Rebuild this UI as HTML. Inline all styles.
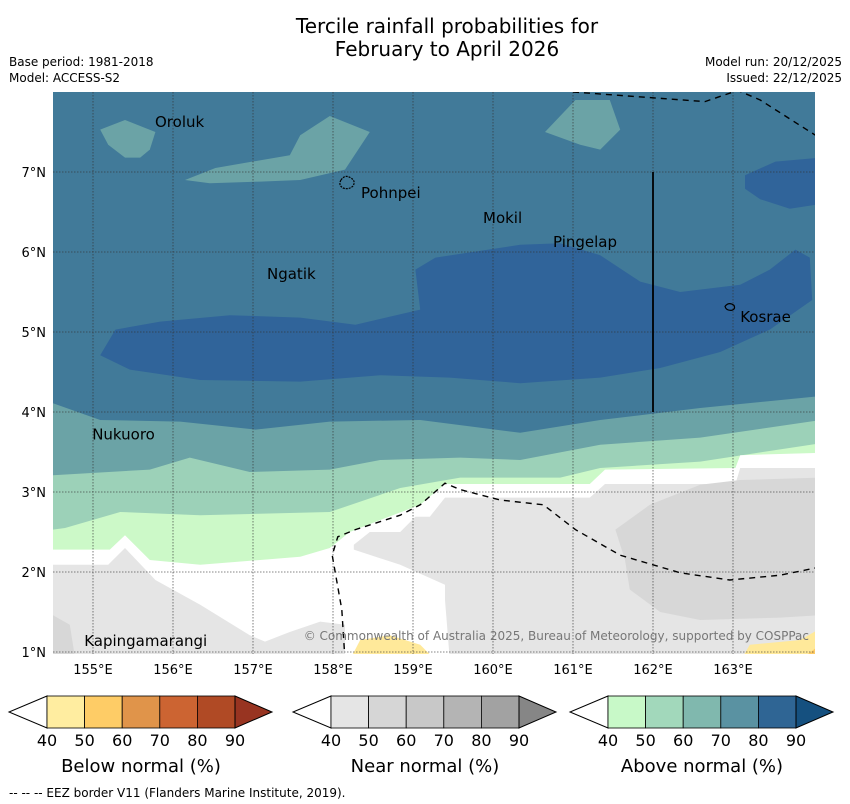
<!DOCTYPE html>
<html><head><meta charset="utf-8"><style>
body{margin:0;background:#fff;width:850px;height:804px;overflow:hidden;font-family:"Liberation Sans","DejaVu Sans",sans-serif}
svg{position:absolute;left:0;top:0}
</style></head><body>
<svg id="s" width="850" height="804" xmlns="http://www.w3.org/2000/svg" font-family="DejaVu Sans, Liberation Sans, sans-serif">
<text x="447" y="33" font-size="20" text-anchor="middle">Tercile rainfall probabilities for</text>
<text x="447" y="56" font-size="20" text-anchor="middle">February to April 2026</text>
<text x="9" y="66" font-size="12">Base period: 1981-2018</text>
<text x="9" y="82" font-size="12">Model: ACCESS-S2</text>
<text x="842" y="66" font-size="12" text-anchor="end">Model run: 20/12/2025</text>
<text x="842" y="82" font-size="12" text-anchor="end">Issued: 22/12/2025</text>
<defs><clipPath id="mc"><rect x="53" y="92" width="762" height="562"/></clipPath></defs>
<g id="map" clip-path="url(#mc)"></g>
<g id="over"></g>
<text x="9" y="797" font-size="12">--  --  -- EEZ border V11 (Flanders Marine Institute, 2019).</text>
</svg>
<script>
const lonMin=154.5, latMax=8.0, pxDeg=80, X0=53, Y0=92;
function px(lon){return X0+(lon-lonMin)*pxDeg;}
function py(lat){return Y0+(latMax-lat)*pxDeg;}
const lonTicks=[155,156,157,158,159,160,161,162,163];
const latTicks=[1,2,3,4,5,6,7];
const darkBlob=[[155.09,4.71],[155.28,5.03],[155.84,5.13],[156.71,5.21],[157.59,5.18],[158.28,5.09],[159.09,5.28],[159.03,5.78],[159.28,5.93],[160.34,6.09],[160.84,6.11],[161.34,5.96],[161.84,5.63],[162.34,5.5],[163.09,5.59],[163.46,5.78],[163.78,6.03],[163.96,5.93],[163.99,5.4],[163.46,5.03],[162.84,4.75],[162.09,4.55],[161.34,4.43],[160.34,4.36],[159.46,4.43],[158.59,4.46],[157.59,4.38],[156.34,4.4],[155.46,4.53]];
const darkBlob2=[[163.15,6.96],[163.53,7.13],[164.1,7.18],[164.1,6.6],[163.71,6.54],[163.34,6.66],[163.15,6.79]];
const tealOroluk=[[155.09,7.53],[155.4,7.65],[155.78,7.5],[155.71,7.28],[155.59,7.18],[155.4,7.18],[155.19,7.34]];
const tealPohnpei=[[156.15,6.9],[156.53,7.05],[157.46,7.21],[157.59,7.46],[157.96,7.7],[158.46,7.5],[158.15,7.03],[157.59,6.9],[157.09,6.88],[156.46,6.86]];
const tealNE=[[160.65,7.5],[161.03,7.9],[161.46,7.9],[161.59,7.53],[161.34,7.28],[161.09,7.34]];
const tealTop=[[154.5,4.11],[155.09,3.9],[156.09,3.88],[157.03,3.78],[157.96,3.88],[159.09,3.9],[160.34,3.74],[161.34,3.9],[162.59,4.05],[164.1,4.2]];
const lightTop=[[154.5,3.21],[155.71,3.28],[156.21,3.43],[156.96,3.25],[157.96,3.28],[158.59,3.4],[159.59,3.43],[160.34,3.4],[161.34,3.59],[162.59,3.68],[164.1,3.9]];
const paleTop=[[154.5,2.53],[154.65,2.55],[155.34,2.75],[156.34,2.71],[157.96,2.75],[158.84,3.05],[159.59,3.18],[160.84,3.18],[161.34,3.3],[162.59,3.38],[164.1,3.61]];
const whiteTop=[[154.5,2.28],[155.21,2.28],[155.4,2.46],[155.71,2.15],[156.34,2.09],[157.59,2.19],[157.96,2.3],[158.21,2.5],[158.59,2.65],[159.09,2.84],[159.4,3.1],[161.21,3.1],[161.4,3.28],[163.03,3.3],[163.09,3.46],[164.1,3.49]];
const grayRight=[[158.26,2.34],[158.46,2.5],[158.84,2.5],[159.03,2.69],[159.21,2.69],[159.4,2.93],[161.21,2.93],[161.4,3.1],[163.03,3.1],[163.09,3.3],[164.1,3.3],[164.1,1.15],[163.71,1.09],[163.09,0.9],[159.46,0.9],[159.4,1.65],[159.4,1.84],[158.84,2.09],[158.26,2.28]];
const grayLeft=[[154.5,2.09],[155.19,2.09],[155.4,2.3],[155.78,1.9],[156.34,1.59],[156.96,1.21],[157.15,1.13],[157.46,1.25],[157.84,1.38],[158.15,1.34],[158.15,0.9],[154.5,0.9]];
const gray2Right=[[161.53,2.53],[161.96,2.84],[162.59,3.09],[163.09,3.15],[164.1,3.18],[164.1,1.46],[163.59,1.43],[162.59,1.4],[162.09,1.5],[161.71,1.78],[161.65,2.15]];
const gray2Left=[[154.5,1.46],[154.71,1.34],[154.78,0.9],[154.5,0.9]];
const yellowMid=[[158.21,0.9],[158.34,1.15],[158.71,1.21],[159.09,1.09],[159.28,0.9]];
const yellowRight=[[163.1,0.9],[163.21,1.09],[163.84,1.15],[164.1,1.3],[164.1,0.9]];
const orangeRight=[[163.84,0.9],[164.1,1.1],[164.1,0.9]];
const eezNorth=[[161.0,8.0],[162.65,7.88],[163.06,8.02],[163.34,7.9],[164.03,7.46]];
const eezSouth=[[158.15,0.9],[158.11,1.53],[157.99,2.21],[158.06,2.44],[158.28,2.53],[158.84,2.71],[159.09,2.84],[159.4,3.11],[159.59,3.03],[160.09,2.9],[160.63,2.84],[161.03,2.53],[161.59,2.21],[162.34,1.99],[162.96,1.9],[163.59,1.96],[164.03,2.05]];
const places=["Oroluk","Pohnpei","Mokil","Pingelap","Ngatik","Kosrae","Nukuoro","Kapingamarangi"];
const placeLon=[155.775,158.35,159.875,160.75,157.175,163.09,154.99,154.89];
const placeLat=[7.69,6.8,6.49,6.19,5.79,5.25,3.78,1.2];
const NS="http://www.w3.org/2000/svg";
const map=document.getElementById('map'), over=document.getElementById('over');
function el(t,a,p){const e=document.createElementNS(NS,t);for(const k in a)e.setAttribute(k,a[k]);(p||map).appendChild(e);return e;}
function poly(pts,fill,name){const e=el('polygon',{points:pts.map(p=>px(p[0])+','+py(p[1])).join(' '),fill:fill});

return e;}
function band(top,fill,name){return poly(top.concat([[164.1,0.9],[154.5,0.9]]),fill,name);}
const bg=el('rect',{x:53,y:92,width:762,height:562,fill:'#417a99'});


poly(darkBlob,'#30649a','above-normal-80-90-region');
poly(darkBlob2,'#30649a','above-normal-80-90-region-ne');
poly(tealOroluk,'#6ba3a6','above-normal-60-70-oroluk');
poly(tealPohnpei,'#6ba3a6','above-normal-60-70-pohnpei');
poly(tealNE,'#6ba3a6','above-normal-60-70-ne');
band(tealTop,'#6ba3a6','above-normal-60-70-band');
band(lightTop,'#9cd1b8','above-normal-50-60-band');
band(paleTop,'#ccf9c8','above-normal-40-50-band');
band(whiteTop,'#ffffff','no-dominant-band');
poly(grayRight,'#e5e5e5','near-normal-40-50-east');
poly(grayLeft,'#e5e5e5','near-normal-40-50-west');
poly(gray2Right,'#d7d7d7','near-normal-50-60-east');
poly(gray2Left,'#d7d7d7','near-normal-50-60-west');
poly(yellowMid,'#ffe99a','below-normal-40-50-mid');
poly(yellowRight,'#ffe99a','below-normal-40-50-east');
poly(orangeRight,'#fecb66','below-normal-50-60-east');
lonTicks.forEach(l=>{const g=el('line',{x1:px(l),x2:px(l),y1:92,y2:654,stroke:'#333','stroke-width':0.8,'stroke-dasharray':'1.5,1.5',opacity:0.8});

});
latTicks.forEach(l=>{const g=el('line',{x1:53,x2:815,y1:py(l),y2:py(l),stroke:'#333','stroke-width':0.8,'stroke-dasharray':'1.5,1.5',opacity:0.8});

});
[eezNorth,eezSouth].forEach(a=>{const e=el('polyline',{points:a.map(p=>px(p[0])+','+py(p[1])).join(' '),fill:'none',stroke:'#000','stroke-width':1.4,'stroke-dasharray':'6,5'});

});
const vl=el('line',{x1:px(162),x2:px(162),y1:py(7),y2:py(4),stroke:'#000','stroke-width':1.8});


const pp=el('path',{d:`M${px(158.1)} ${py(6.9)} q4 -6 10 -2 q5 3 2 8 q-4 4 -10 2 q-5 -3 -2 -8z`,fill:'none',stroke:'#000','stroke-width':1.2,'stroke-dasharray':'2,1'});


const kp=el('path',{d:`M${px(162.9)} ${py(5.32)} q4 -5 9 -1 q2 4 -3 5 q-5 0 -6 -4z`,fill:'none',stroke:'#000','stroke-width':1.2});


places.forEach((n,i)=>{const t=el('text',{x:px(placeLon[i]),y:py(placeLat[i])+10,'font-size':15,fill:'#000'});t.textContent=n;

});
const cp=el('text',{x:809,y:640,'font-size':12,fill:'#777','text-anchor':'end'});
cp.textContent='© Commonwealth of Australia 2025, Bureau of Meteorology, supported by COSPPac';


lonTicks.forEach(l=>{const t=el('text',{x:px(l),y:674,'font-size':13,'text-anchor':'middle'},over);t.textContent=l+'°E';

});
latTicks.forEach(l=>{const t=el('text',{x:46,y:py(l)+5,'font-size':13,'text-anchor':'end'},over);t.textContent=l+'°N';

});
const cbTicks=[40,50,60,70,80,90];
const cbNames=['Below normal (%)','Near normal (%)','Above normal (%)'];
const cbLeft=[47,331,608];
const cbColors=[['#ffeda0','#fecc66','#e0944a','#cc6432','#b04a25','#983421'],['#e5e5e5','#d6d6d6','#c8c8c8','#b4b4b4','#a2a2a2','#868686'],['#c8f9c8','#a2d8bb','#80b8ae','#5a92a2','#2f6594','#15507f']];
cbNames.forEach((nm,i)=>{const x0=cbLeft[i],w=188,sw=w/5,top=696,bot=728,mid=712;
const tl=el('polygon',{points:`${x0},${top} ${x0-38},${mid} ${x0},${bot}`,fill:'#fff',stroke:'#000','stroke-width':1},over);


for(let k=0;k<5;k++){const r=el('rect',{x:x0+k*sw,y:top,width:sw,height:bot-top,fill:cbColors[i][k],stroke:'#000','stroke-width':0.8},over);

}
const tr=el('polygon',{points:`${x0+w},${top} ${x0+w+37},${mid} ${x0+w},${bot}`,fill:cbColors[i][5],stroke:'#000','stroke-width':1},over);


cbTicks.forEach((v,k)=>{const t=el('text',{x:x0+k*sw,y:746,'font-size':16,'text-anchor':'middle'},over);t.textContent=v;

});
const lt=el('text',{x:x0+w/2,y:772,'font-size':18,'text-anchor':'middle'},over);lt.textContent=nm;


});
</script>
</body></html>
